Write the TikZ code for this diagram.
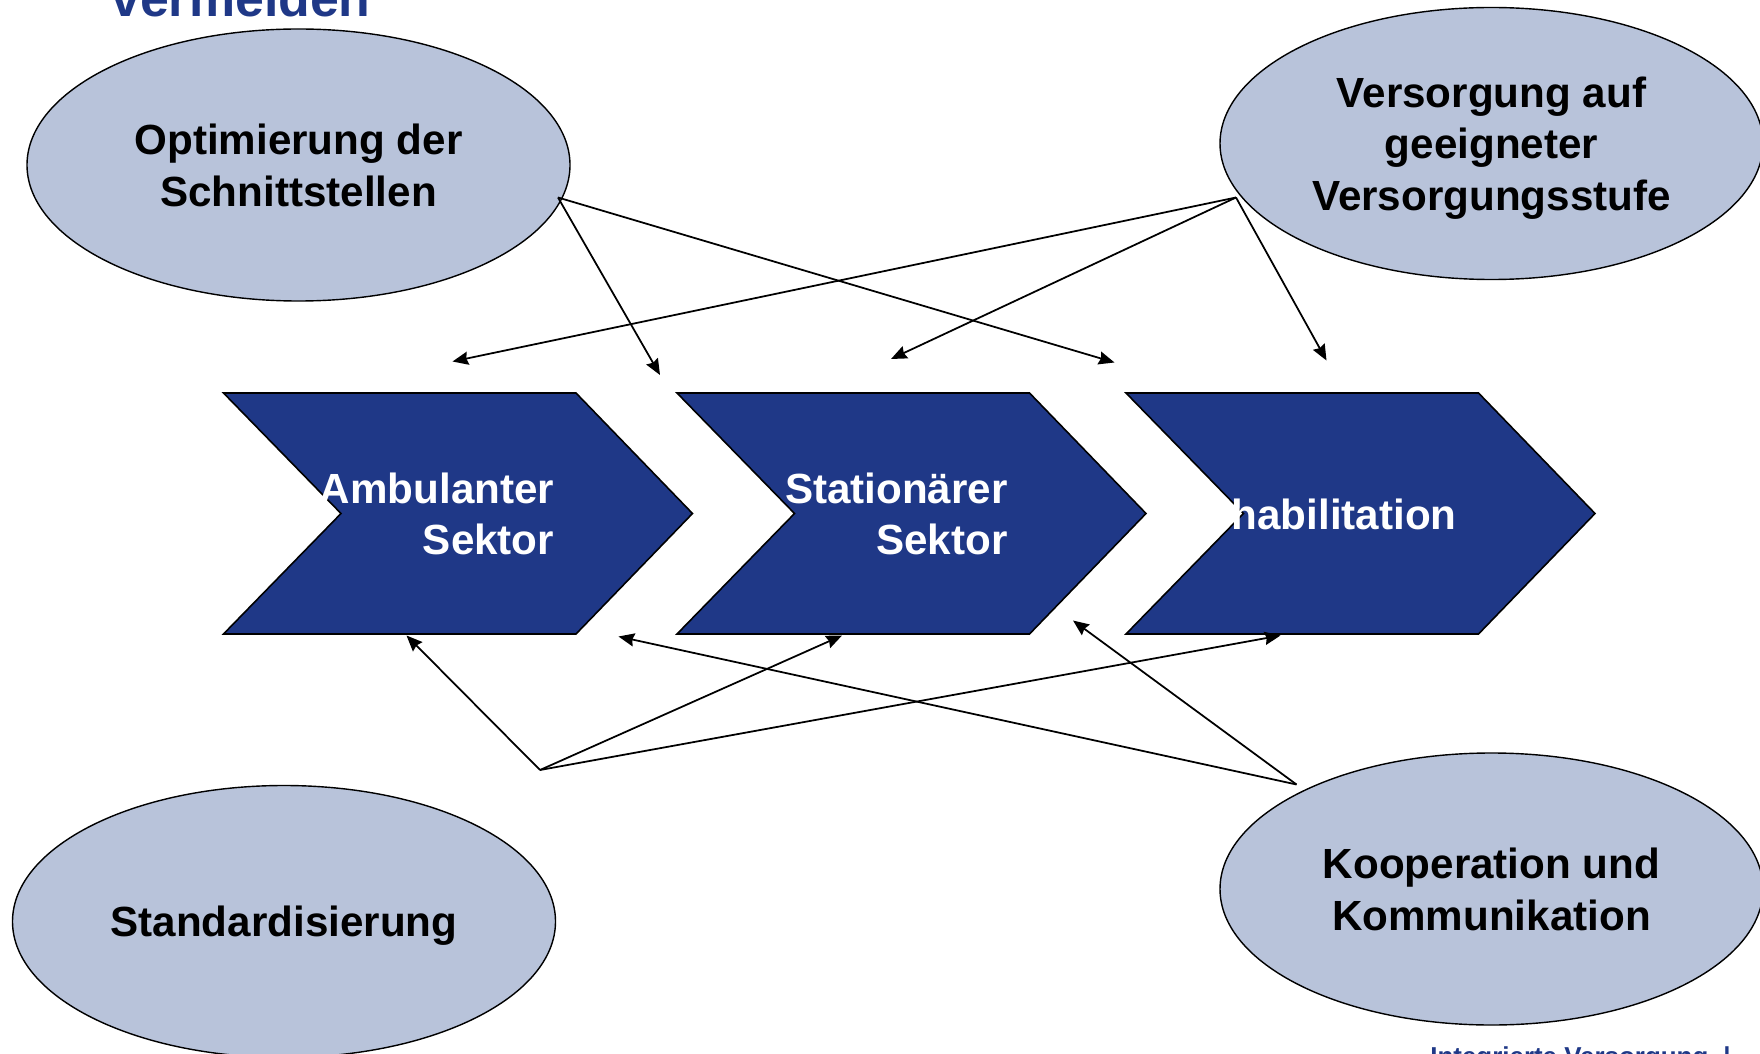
\documentclass[tikz,border=0pt]{standalone}
\usepackage{fontspec}
\setmainfont{Liberation Sans}
\usetikzlibrary{shapes.geometric,arrows.meta}
\definecolor{sektorblau}{RGB}{31,56,135}
\definecolor{zielgrau}{RGB}{184,195,218}
\tikzset{
  ziel/.style={ellipse, draw, fill=zielgrau, line width=0.8pt,
    minimum width=10.86cm, minimum height=5.44cm, align=center, text depth=0pt,
    font=\bfseries\fontsize{24}{29.4}\selectfont},
  sektor/.style={draw, fill=sektorblau, line width=0.9pt},
  sektortext/.style={text=white, inner sep=0pt, align=right,
    font=\bfseries\fontsize{24}{29.4}\selectfont},
  pfeil/.style={-{Stealth[length=9pt,width=7.5pt,inset=1pt]}, line width=1pt}
}
\begin{document}
\begin{tikzpicture}
  \useasboundingbox (0,0) rectangle (35.2,21.06);
  % Kopf- und Fusszeile (abgeschnitten)
  \node[anchor=base west, inner sep=0pt, text=sektorblau,
    font=\bfseries\fontsize{29.5}{34}\selectfont] (titel) at (2.22,20.72) {vermeiden};
  \node[anchor=base west, inner sep=0pt, text=sektorblau,
    font=\bfseries\fontsize{14.75}{17}\selectfont] (fuss) at (28.6,-0.245) {Integrierte Versorgung\hspace{0.3cm}|};
  % Sektoren
  \foreach \dx in {0,9.07,18.05}
    \draw[sektor, xshift=\dx cm] (4.47,13.20) -- (11.52,13.20) -- (13.85,10.79)
      -- (11.52,8.38) -- (4.47,8.38) -- (6.82,10.79) -- cycle;
  \node[sektortext, anchor=east] (amb) at (11.09,10.78) {Ambulanter\\Sektor};
  \node[sektortext, anchor=east] (stat) at (20.16,10.78) {Stationärer\\Sektor};
  \node[sektortext, anchor=east] (reha) at (29.14,10.78) {habilitation};
  % Ziele
  \node[ziel] (optim) at (5.97,17.76) {Optimierung der\\Schnittstellen};
  \node[ziel] (stufe) at (29.83,18.19) {Versorgung auf\\geeigneter\\Versorgungsstufe};
  \node[ziel] (standard) at (5.68,2.63) {Standardisierung};
  \node[ziel] (koop) at (29.83,3.28) {Kooperation und\\Kommunikation};
  % Pfeilpunkte
  \coordinate (optim-aus) at (11.16,17.11);
  \coordinate (stufe-aus) at (24.72,17.11);
  \coordinate (standard-aus) at (10.80,5.66);
  \coordinate (koop-aus) at (25.93,5.37);
  \coordinate (amb-oben) at (9.05,13.83);
  \coordinate (stat-oben) at (17.82,13.88);
  \coordinate (reha-oben) at (26.53,13.85);
  \coordinate (luecke-a) at (13.20,13.56);
  \coordinate (luecke-b) at (22.29,13.81);
  \coordinate (amb-unten) at (8.13,8.35);
  \coordinate (stat-unten) at (16.84,8.35);
  \coordinate (reha-unten) at (25.61,8.35);
  \coordinate (amb-spitze) at (12.37,8.33);
  \coordinate (stat-spitze) at (21.46,8.65);
  % Pfeile
  \draw[pfeil] (optim-aus) -- (luecke-a);
  \draw[pfeil] (optim-aus) -- (luecke-b);
  \draw[pfeil] (stufe-aus) -- (amb-oben);
  \draw[pfeil] (stufe-aus) -- (stat-oben);
  \draw[pfeil] (stufe-aus) -- (reha-oben);
  \draw[pfeil] (standard-aus) -- (amb-unten);
  \draw[pfeil] (standard-aus) -- (stat-unten);
  \draw[pfeil] (standard-aus) -- (reha-unten);
  \draw[pfeil] (koop-aus) -- (amb-spitze);
  \draw[pfeil] (koop-aus) -- (stat-spitze);
\end{tikzpicture}
\end{document}
